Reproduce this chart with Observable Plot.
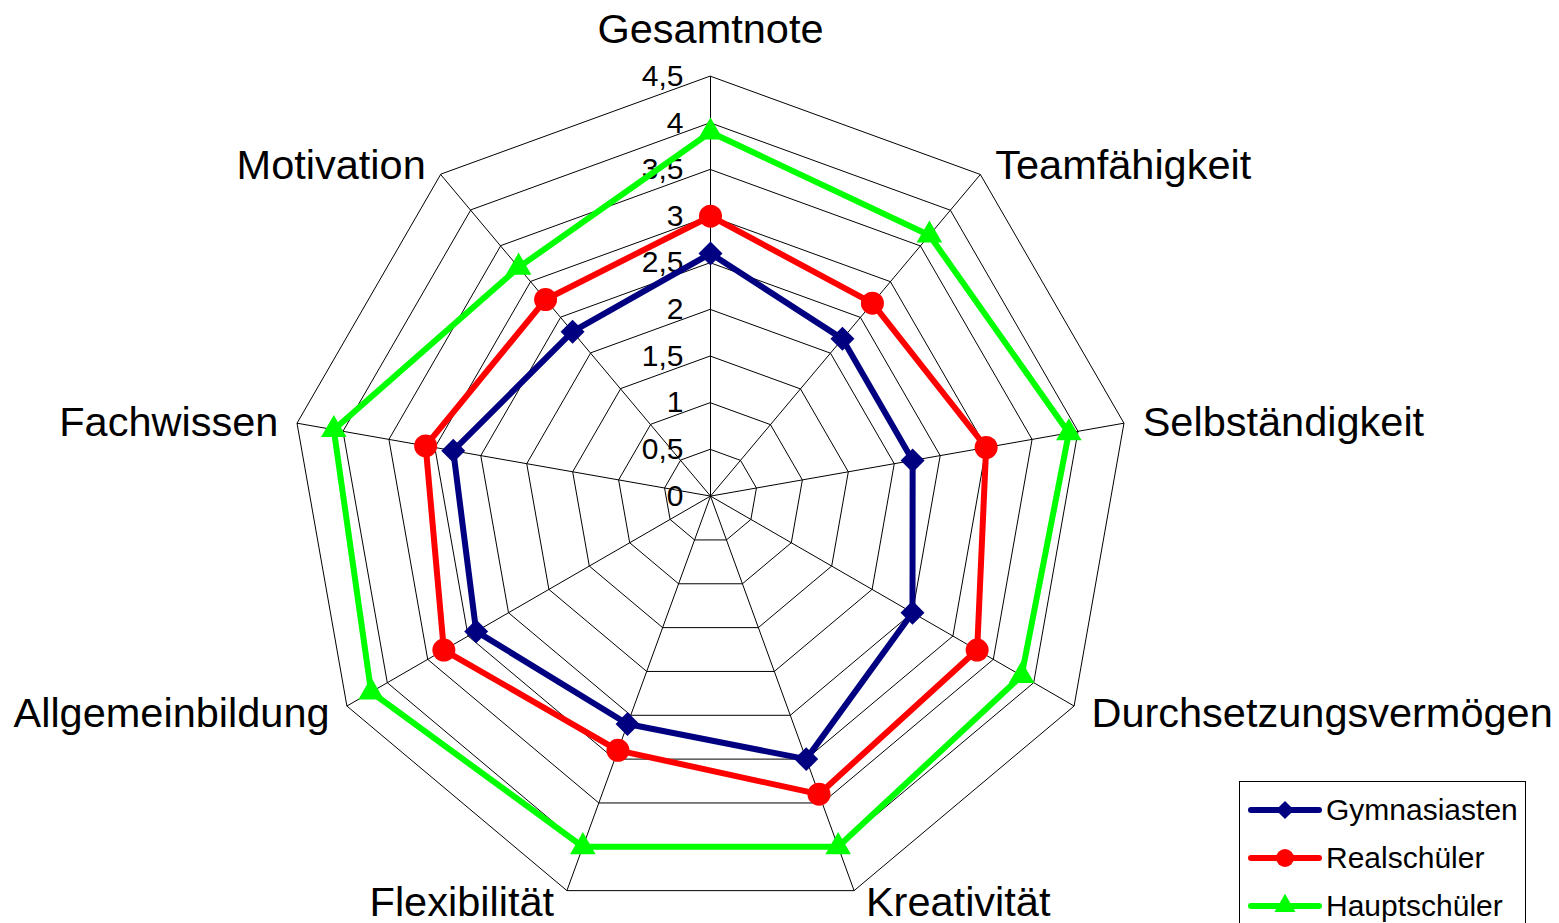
<!DOCTYPE html>
<html>
<head>
<meta charset="utf-8">
<script src="https://cdn.jsdelivr.net/npm/d3@7"></script>
<script src="https://cdn.jsdelivr.net/npm/@observablehq/plot@0.6"></script>
<style>
  html, body { margin: 0; padding: 0; background: #fff; }
  #wrap { position: relative; width: 1559px; height: 923px; overflow: hidden; font-family: "Liberation Sans", Arial, sans-serif; }
  #legend { position: absolute; left: 1239px; top: 781px; width: 287px; height: 160px; border: 1px solid #000; background: #fff; box-sizing: border-box; }
  .row { position: absolute; left: 8px; height: 30px; display: flex; align-items: center; }
  .row span { font-size: 30px; margin-left: 4px; color: #000; line-height: 30px; }
</style>
</head>
<body>
<div id="wrap"><div id="chart"></div><div id="legend"></div></div>
<script>
// ---- data ----
const axes = ["Gesamtnote", "Teamfähigkeit", "Selbständigkeit", "Durchsetzungsvermögen", "Kreativität", "Flexibilität", "Allgemeinbildung", "Fachwissen", "Motivation"];
const gymnasiasten = [2.6, 2.2, 2.2, 2.5, 3.0, 2.6, 2.9, 2.8, 2.3];
const realschueler = [3.0, 2.7, 3.0, 3.3, 3.4, 2.9, 3.3, 3.1, 2.75];
const hauptschueler = [3.9, 3.65, 3.9, 3.85, 4.0, 4.0, 4.2, 4.1, 3.2];
const seriesNames = ["Gymnasiasten", "Realschüler", "Hauptschüler"];
const tickValues = [0, 0.5, 1, 1.5, 2, 2.5, 3, 3.5, 4, 4.5];
const tickLabels = ["0", "0,5", "1", "1,5", "2", "2,5", "3", "3,5", "4", "4,5"];

// ---- styles ----
const seriesColors = ["#000080", "#ff0000", "#00ff00"];
const seriesSymbols = [d3.symbolDiamond2, d3.symbolCircle, d3.symbolTriangle];
const seriesR = [10.8, 11.5, 9.5];
const legendR = [8.2, 9, 7.8];

const W = 1559, H = 923, cx = 710, cy = 495.6, k = 93.3;
const maxV = tickValues[tickValues.length - 1];
const n = axes.length;
const ang = i => i * 2 * Math.PI / n;
const px = (v, i) => v * Math.sin(ang(i));
const py = (v, i) => v * Math.cos(ang(i));

const seriesValues = [gymnasiasten, realschueler, hauptschueler];
const points = seriesNames.flatMap((s, si) => seriesValues[si].map((v, i) => ({series: s, si, axis: axes[i], x: px(v, i), y: py(v, i)})));

const rings = tickValues.filter(t => t > 0).flatMap(t => axes.map((a, i) => ({t, x: px(t, i), y: py(t, i)})));
const spokes = axes.map((a, i) => ({x2: px(maxV, i), y2: py(maxV, i)}));
const labelR = maxV + 20 / k;
const labels = axes.map((a, i) => ({a, s: Math.sin(ang(i)), c: Math.cos(ang(i)), x: px(labelR, i), y: py(labelR, i)}));
const ticks = tickValues.map((t, i) => ({t, label: tickLabels[i]}));

// label placement groups (by direction of the spoke)
const labelGroups = [
  {test: d => Math.abs(d.s) < 0.1, anchor: "middle", dx: 0, dy: -27},
  {test: d => d.s >= 0.1 && d.c > 0.5, anchor: "start", dx: 2, dy: 7},
  {test: d => d.s <= -0.1 && d.c > 0.5, anchor: "end", dx: -2, dy: 7},
  {test: d => d.s >= 0.1 && Math.abs(d.c) <= 0.5 + 1e-9 && d.c > -0.4, anchor: "start", dx: -1, dy: 3},
  {test: d => d.s <= -0.1 && Math.abs(d.c) <= 0.5 + 1e-9 && d.c > -0.4, anchor: "end", dx: 1, dy: 3},
  {test: d => d.s >= 0.1 && d.c <= -0.4 && d.c > -0.8, anchor: "start", dx: 0, dy: -2},
  {test: d => d.s <= -0.1 && d.c <= -0.4 && d.c > -0.8, anchor: "end", dx: 0, dy: -2},
  {test: d => d.s >= 0.1 && d.c <= -0.8, anchor: "start", dx: 5, dy: -7},
  {test: d => d.s <= -0.1 && d.c <= -0.8, anchor: "end", dx: -6, dy: -7}
];

const marks = [
  Plot.line(rings, {x: "x", y: "y", z: "t", curve: "linear-closed", stroke: "#000", strokeWidth: 1}),
  Plot.link(spokes, {x1: 0, y1: 0, x2: "x2", y2: "y2", stroke: "#000", strokeWidth: 1}),
  Plot.text(ticks, {x: 0, y: "t", text: "label", textAnchor: "end", dx: -27, fontSize: 30, fill: "#000"})
];
labelGroups.forEach(g => {
  marks.push(Plot.text(labels.filter(g.test), {x: "x", y: "y", text: "a", textAnchor: g.anchor, dx: g.dx, dy: g.dy, fontSize: 41.5, fill: "#000"}));
});
seriesNames.forEach((s, si) => {
  const d = points.filter(p => p.si === si);
  marks.push(Plot.line(d, {x: "x", y: "y", curve: "linear-closed", stroke: seriesColors[si], strokeWidth: 6, strokeLinejoin: "round"}));
});
seriesNames.forEach((s, si) => {
  const d = points.filter(p => p.si === si);
  marks.push(Plot.dot(d, {x: "x", y: "y", symbol: seriesSymbols[si], r: seriesR[si], fill: seriesColors[si], stroke: "none"}));
});

const chart = Plot.plot({
  width: W, height: H, margin: 0,
  x: {domain: [-cx / k, (W - cx) / k], range: [0, W], axis: null},
  y: {domain: [-(H - cy) / k, cy / k], range: [H, 0], axis: null},
  style: {background: "#fff", fontFamily: "'Liberation Sans', Arial, sans-serif", overflow: "visible"},
  marks
});
document.getElementById("chart").appendChild(chart);

// ---- legend ----
const legend = d3.select("#legend");
seriesNames.forEach((s, si) => {
  const row = legend.append("div").attr("class", "row").style("top", (13 + si * 48) + "px");
  const svg = row.append("svg").attr("width", 74).attr("height", 30);
  svg.append("line").attr("x1", 3).attr("x2", 71).attr("y1", 15).attr("y2", 15)
    .attr("stroke", seriesColors[si]).attr("stroke-width", 6).attr("stroke-linecap", "round");
  svg.append("path").attr("transform", "translate(37,15)")
    .attr("d", d3.symbol(seriesSymbols[si], Math.PI * legendR[si] * legendR[si])())
    .attr("fill", seriesColors[si]);
  row.append("span").text(s);
});
</script>
</body>
</html>
